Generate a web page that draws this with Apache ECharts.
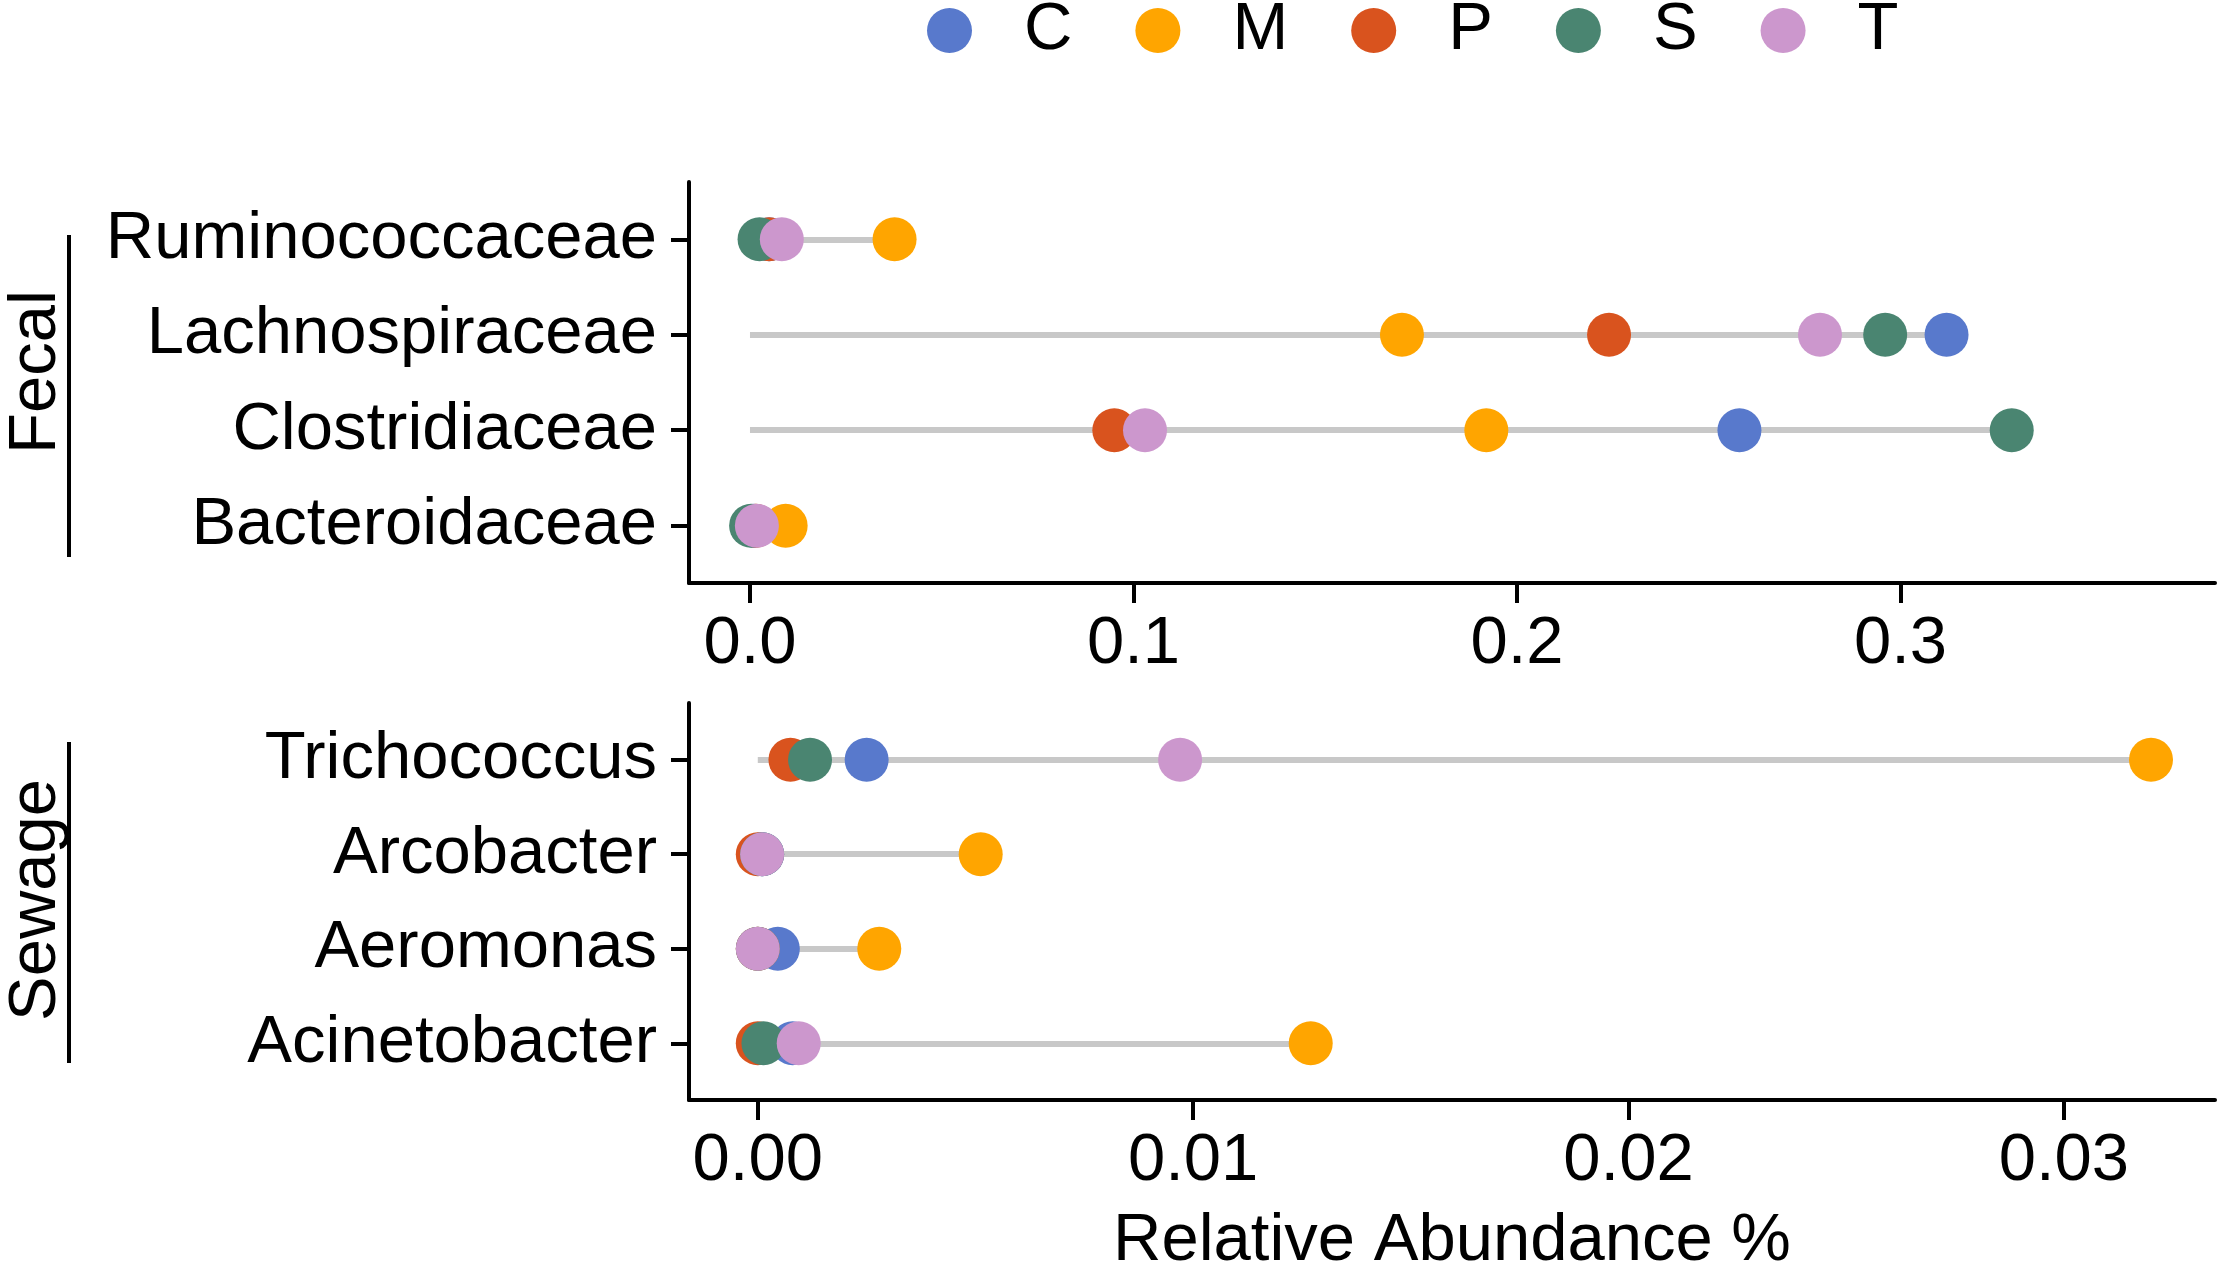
<!DOCTYPE html>
<html>
<head>
<meta charset="utf-8">
<script src="https://cdn.jsdelivr.net/npm/echarts@6/dist/echarts.min.js"></script>
<style>
html,body{margin:0;padding:0;background:#fff;}
#chart{width:2228px;height:1276px;}
</style>
</head>
<body>
<div id="chart"></div>
<script>
// ---- data ----
const groups = ['C', 'M', 'P', 'S', 'T'];
const fecalCategories = ['Ruminococcaceae', 'Lachnospiraceae', 'Clostridiaceae', 'Bacteroidaceae'];
const sewageCategories = ['Trichococcus', 'Arcobacter', 'Aeromonas', 'Acinetobacter'];

const fecalC = [0.005, 0.312, 0.258, 0.001];
const fecalM = [0.0377, 0.170, 0.192, 0.0093];
const fecalP = [0.005, 0.224, 0.095, 0.0015];
const fecalS = [0.0025, 0.296, 0.329, 0.0003];
const fecalT = [0.0083, 0.279, 0.103, 0.0018];

const sewageC = [0.0025, 0.0001, 0.00046, 0.0008];
const sewageM = [0.0320, 0.00512, 0.00279, 0.0127];
const sewageP = [0.00075, 0.0, 0.0, 0.0];
const sewageS = [0.0012, 0.0001, 0.0, 0.00013];
const sewageT = [0.0097, 0.0001, 0.0, 0.00094];

const fecalTicks = [0, 0.1, 0.2, 0.3];
const sewageTicks = [0, 0.01, 0.02, 0.03];
const categoryTicks = [0, 1, 2, 3];

// ---- styles ----
const colors = { C: '#5879CC', M: '#FFA500', P: '#D9531E', S: '#4A8571', T: '#CC97CD' };
const FONT = "'Liberation Sans', Arial, Helvetica, sans-serif";
const FS = 67;

const fecalValues = { C: fecalC, M: fecalM, P: fecalP, S: fecalS, T: fecalT };
const sewageValues = { C: sewageC, M: sewageM, P: sewageP, S: sewageS, T: sewageT };

function xAxisFor(gridIndex, min, max, ticks, digits) {
  return {
    type: 'value', gridIndex, min, max,
    axisLine: { show: true, onZero: false, lineStyle: { color: '#000', width: 4 } },
    axisTick: { show: true, length: 20, lineStyle: { color: '#000', width: 4 }, customValues: ticks },
    axisLabel: { show: true, customValues: ticks, margin: 28, fontSize: FS, fontFamily: FONT, color: '#000',
      formatter: v => Number(v).toFixed(digits) },
    splitLine: { show: false }
  };
}
function yAxisFor(gridIndex, cats) {
  return {
    type: 'value', gridIndex, min: -0.6, max: 3.6, inverse: true,
    axisLine: { show: true, onZero: false, lineStyle: { color: '#000', width: 4 } },
    axisTick: { show: true, length: 18, lineStyle: { color: '#000', width: 4 }, customValues: categoryTicks },
    axisLabel: { show: true, customValues: categoryTicks, margin: 32, fontSize: FS, fontFamily: FONT, color: '#000',
      formatter: v => cats[Math.round(v)] || '' },
    splitLine: { show: false }
  };
}

function segmentSeries(idx, values) {
  const n = values.C.length;
  const data = [];
  for (let i = 0; i < n; i++) {
    const mx = Math.max(...groups.map(g => values[g][i]));
    data.push({ coords: [[0, i], [mx, i]] });
  }
  return {
    type: 'lines', coordinateSystem: 'cartesian2d', xAxisIndex: idx, yAxisIndex: idx,
    data, z: 1, silent: true,
    lineStyle: { color: '#C8C8C8', width: 6, opacity: 1 }
  };
}
function pointSeries(idx, values) {
  return groups.map(g => ({
    name: g, type: 'scatter', xAxisIndex: idx, yAxisIndex: idx, z: 2,
    symbol: 'circle', symbolSize: 44,
    itemStyle: { color: colors[g], opacity: 1 },
    data: values[g].map((v, i) => [v, i])
  }));
}

const chart = echarts.init(document.getElementById('chart'), null, { renderer: 'canvas' });
chart.setOption({
  animation: false,
  backgroundColor: '#fff',
  legend: {
    data: groups, icon: 'circle', itemWidth: 45, itemHeight: 45, itemGap: 63,
    left: 922, top: -8,
    textStyle: { fontSize: FS, fontFamily: FONT, color: '#000', padding: [0, 0, 0, 47] }
  },
  grid: [
    { left: 689, top: 182, width: 1526, height: 401 },
    { left: 689, top: 703, width: 1526, height: 403 }
  ],
  xAxis: [
    xAxisFor(0, -0.0159, 0.382, fecalTicks, 1),
    Object.assign(xAxisFor(1, -0.00158, 0.03347, sewageTicks, 2), {
      name: 'Relative Abundance %', nameLocation: 'middle', nameGap: 108,
      nameTextStyle: { fontSize: FS, fontFamily: FONT, color: '#000' }
    })
  ],
  yAxis: [yAxisFor(0, fecalCategories), yAxisFor(1, sewageCategories)],
  graphic: [
    { type: 'text', x: 37, y: 372, rotation: Math.PI / 2,
      style: { text: 'Fecal', fontSize: FS, fontFamily: FONT, fill: '#000', align: 'center', verticalAlign: 'middle' } },
    { type: 'line', shape: { x1: 69, y1: 235, x2: 69, y2: 557 }, style: { stroke: '#000', lineWidth: 4 } },
    { type: 'text', x: 37, y: 900, rotation: Math.PI / 2,
      style: { text: 'Sewage', fontSize: FS, fontFamily: FONT, fill: '#000', align: 'center', verticalAlign: 'middle' } },
    { type: 'line', shape: { x1: 69, y1: 742, x2: 69, y2: 1063 }, style: { stroke: '#000', lineWidth: 4 } }
  ],
  series: [
    segmentSeries(0, fecalValues),
    segmentSeries(1, sewageValues),
    ...pointSeries(0, fecalValues),
    ...pointSeries(1, sewageValues)
  ]
});
</script>
</body>
</html>
